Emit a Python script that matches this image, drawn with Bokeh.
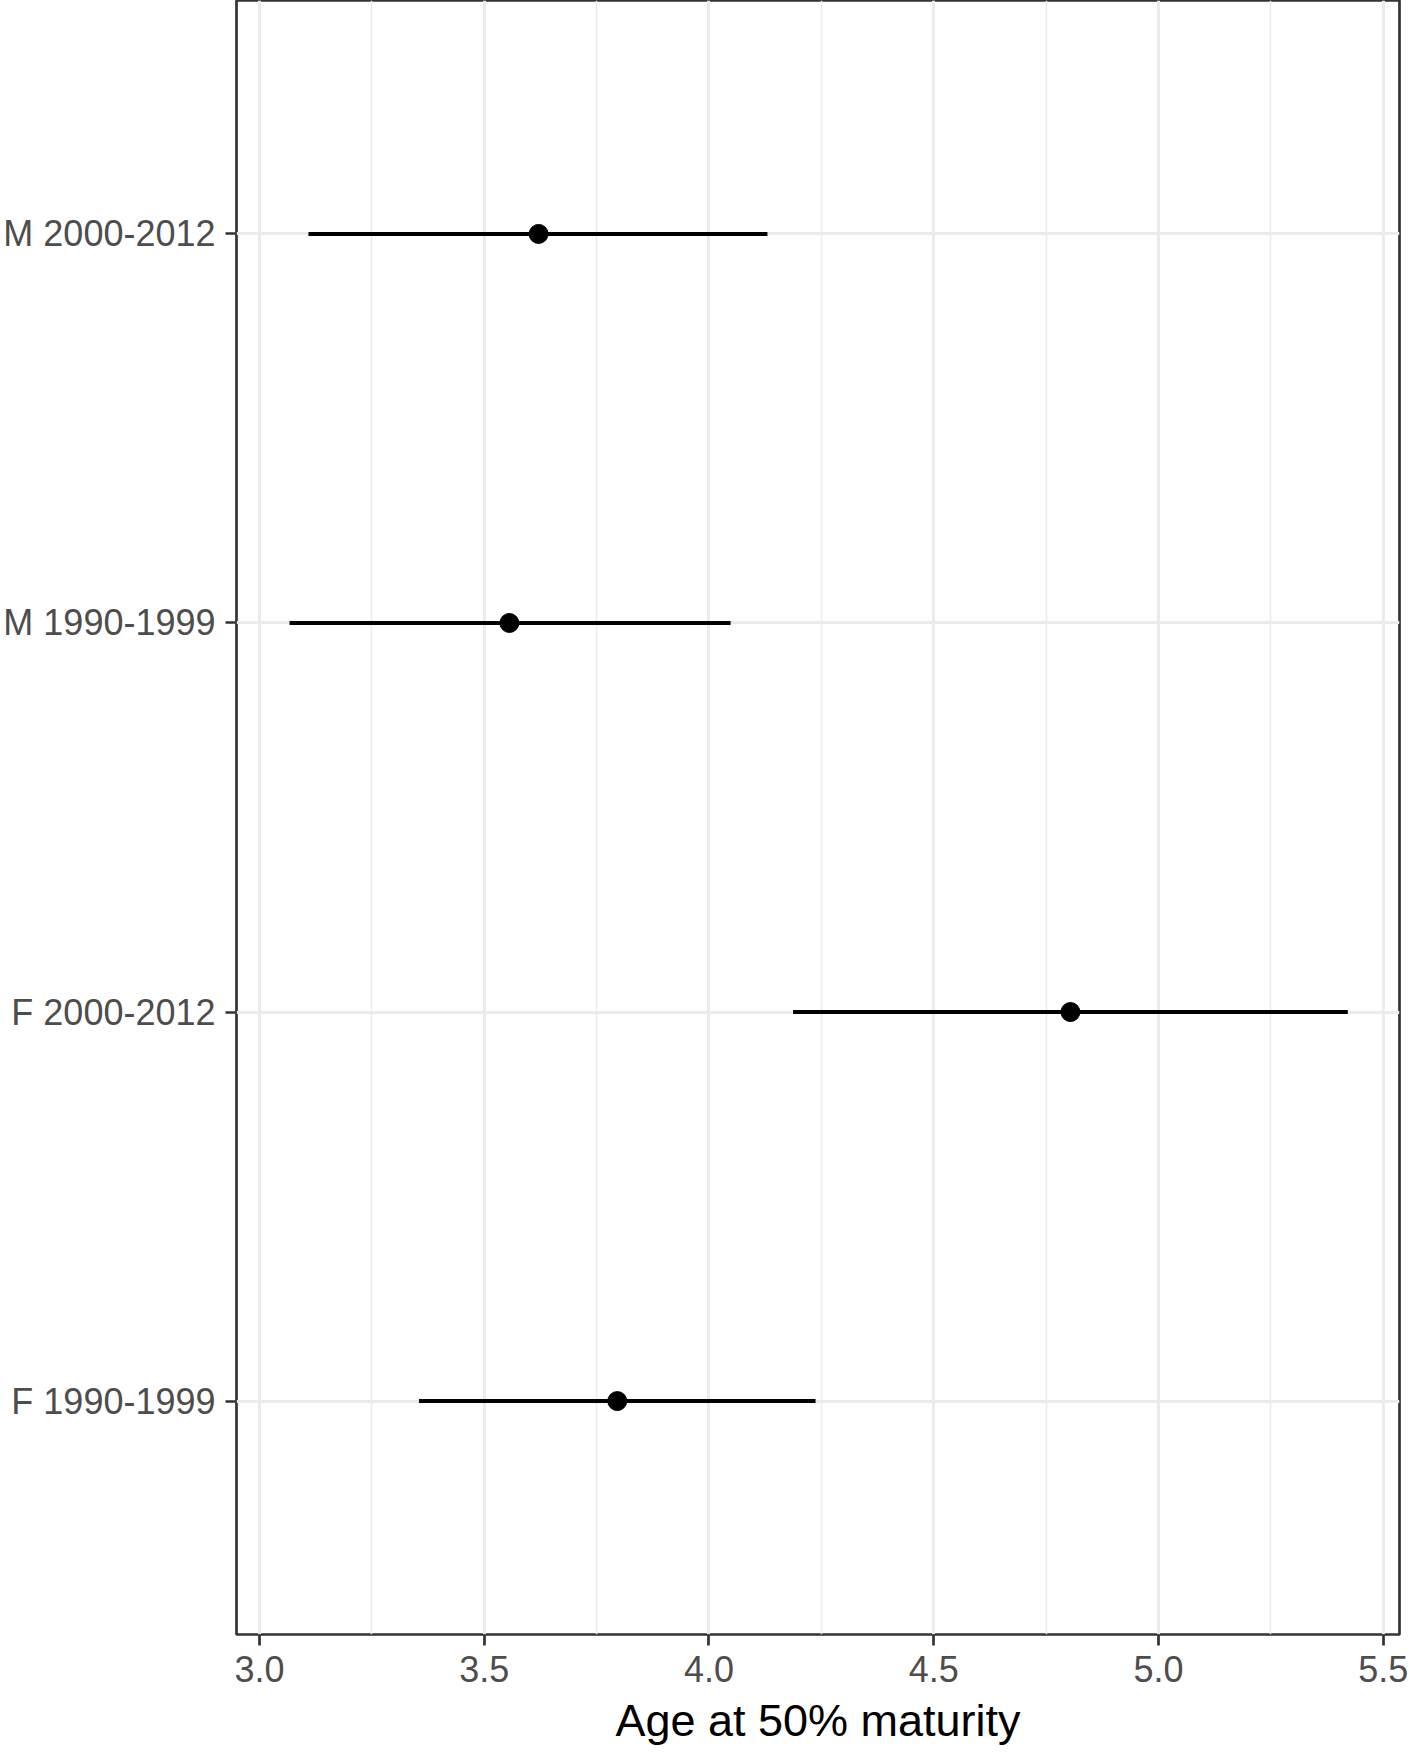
from bokeh.plotting import figure
from bokeh.models import Range1d, FixedTicker, ColumnDataSource, PrintfTickFormatter
from bokeh.embed import file_html
from bokeh.resources import INLINE

# Data
labels = ["F 1990-1999", "F 2000-2012", "M 1990-1999", "M 2000-2012"]
estimate = [3.796, 4.804, 3.556, 3.621]
lower = [3.355, 4.187, 3.067, 3.109]
upper = [4.237, 5.421, 4.048, 4.130]

x_ticks = [3.0, 3.5, 4.0, 4.5, 5.0, 5.5]
x_minor = [3.25, 3.75, 4.25, 4.75, 5.25]
x_title = "Age at 50% maturity"

ypos = list(range(1, len(labels) + 1))

src = ColumnDataSource(dict(y=ypos, est=estimate, lo=lower, hi=upper, lab=labels))

FONT = "Liberation Sans"

p = figure(frame_width=1163, frame_height=1634, output_backend="svg", toolbar_location=None,
           x_range=Range1d(2.949, 5.536), y_range=Range1d(0.4, 4.6),
           min_border_left=227, min_border_right=12, min_border_top=0,
           min_border_bottom=100)

p.background_fill_color = "white"
p.border_fill_color = "white"
p.outline_line_color = "#333333"
p.outline_line_width = 2.7

xt = FixedTicker(ticks=x_ticks, minor_ticks=x_minor)
yt = FixedTicker(ticks=ypos, minor_ticks=[])
p.xaxis.ticker = xt
p.yaxis.ticker = yt
p.xgrid.ticker = xt
p.ygrid.ticker = yt

p.xaxis.formatter = PrintfTickFormatter(format="%.1f")
p.yaxis.major_label_overrides = {y: lab for y, lab in zip(ypos, labels)}

for ax in (p.xaxis, p.yaxis):
    ax.axis_line_color = None
    ax.major_tick_line_color = "#333333"
    ax.major_tick_line_width = 2.7
    ax.major_tick_out = 11
    ax.major_tick_in = 0
    ax.minor_tick_line_color = None
    ax.major_label_text_color = "#4D4D4D"
    ax.major_label_text_font = FONT
    ax.major_label_text_font_size = "36px"

p.xaxis.major_label_standoff = 10
p.yaxis.major_label_standoff = 10
p.xaxis.axis_label = x_title
p.xaxis.axis_label_text_font = FONT
p.xaxis.axis_label_text_font_size = "45px"
p.xaxis.axis_label_text_font_style = "normal"
p.xaxis.axis_label_text_color = "black"
p.xaxis.axis_label_standoff = 10

p.xgrid.grid_line_color = "#EBEBEB"
p.xgrid.grid_line_width = 3
p.xgrid.minor_grid_line_color = "#EBEBEB"
p.xgrid.minor_grid_line_width = 1.5
p.ygrid.grid_line_color = "#EBEBEB"
p.ygrid.grid_line_width = 3

p.segment(x0="lo", y0="y", x1="hi", y1="y", source=src, line_color="black", line_width=4)
p.scatter(x="est", y="y", source=src, size=19, fill_color="black", line_color="black")

open("out.html", "w").write(file_html(p, INLINE))
